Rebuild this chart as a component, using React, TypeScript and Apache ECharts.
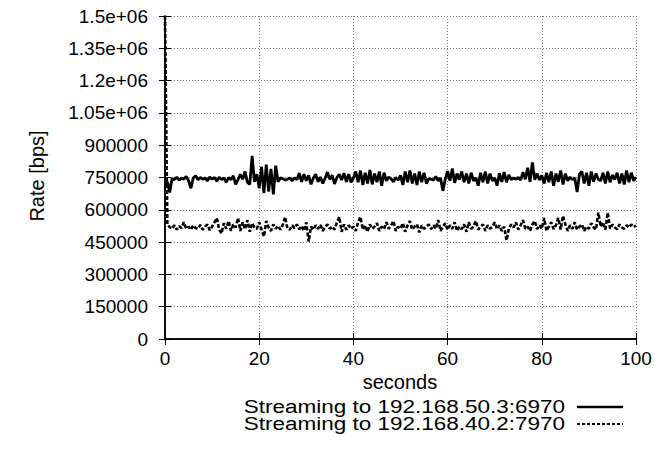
import React, { useEffect, useRef } from "react";
import * as echarts from "echarts";

const seconds = [
  0, 0.5, 1, 1.5, 2, 2.5, 3, 3.5, 4, 4.5, 5, 5.5, 6, 6.5, 7, 7.5, 8, 8.5, 9, 9.5,
  10, 10.5, 11, 11.5, 12, 12.5, 13, 13.5, 14, 14.5, 15, 15.5, 16, 16.5, 17, 17.5, 18, 18.5, 19, 19.5,
  20, 20.5, 21, 21.5, 22, 22.5, 23, 23.5, 24, 24.5, 25, 25.5, 26, 26.5, 27, 27.5, 28, 28.5, 29, 29.5,
  30, 30.5, 31, 31.5, 32, 32.5, 33, 33.5, 34, 34.5, 35, 35.5, 36, 36.5, 37, 37.5, 38, 38.5, 39, 39.5,
  40, 40.5, 41, 41.5, 42, 42.5, 43, 43.5, 44, 44.5, 45, 45.5, 46, 46.5, 47, 47.5, 48, 48.5, 49, 49.5,
  50, 50.5, 51, 51.5, 52, 52.5, 53, 53.5, 54, 54.5, 55, 55.5, 56, 56.5, 57, 57.5, 58, 58.5, 59, 59.5,
  60, 60.5, 61, 61.5, 62, 62.5, 63, 63.5, 64, 64.5, 65, 65.5, 66, 66.5, 67, 67.5, 68, 68.5, 69, 69.5,
  70, 70.5, 71, 71.5, 72, 72.5, 73, 73.5, 74, 74.5, 75, 75.5, 76, 76.5, 77, 77.5, 78, 78.5, 79, 79.5,
  80, 80.5, 81, 81.5, 82, 82.5, 83, 83.5, 84, 84.5, 85, 85.5, 86, 86.5, 87, 87.5, 88, 88.5, 89, 89.5,
  90, 90.5, 91, 91.5, 92, 92.5, 93, 93.5, 94, 94.5, 95, 95.5, 96, 96.5, 97, 97.5, 98, 98.5, 99, 99.5,
  100,
];

// Streaming to 192.168.50.3:6970 (bps)
const rateStream1 = [
  700000, 730000, 680000, 745000, 740000, 752000, 738000, 748000, 742000, 755000,
  735000, 700000, 748000, 758000, 740000, 750000, 742000, 748000, 735000, 752000,
  742000, 750000, 732000, 752000, 740000, 748000, 728000, 750000, 740000, 758000,
  718000, 740000, 765000, 742000, 778000, 728000, 718000, 850000, 730000, 765000,
  700000, 800000, 678000, 810000, 685000, 790000, 672000, 805000, 730000, 748000,
  745000, 738000, 742000, 748000, 735000, 748000, 740000, 770000, 730000, 765000,
  735000, 760000, 718000, 748000, 765000, 730000, 752000, 722000, 748000, 775000,
  742000, 760000, 720000, 750000, 765000, 738000, 770000, 730000, 765000, 728000,
  748000, 778000, 728000, 782000, 715000, 772000, 722000, 785000, 718000, 768000,
  728000, 778000, 712000, 772000, 735000, 752000, 745000, 730000, 750000, 738000,
  760000, 715000, 778000, 728000, 782000, 722000, 768000, 715000, 778000, 728000,
  772000, 722000, 745000, 742000, 738000, 755000, 735000, 748000, 688000, 742000,
  780000, 735000, 792000, 725000, 768000, 740000, 778000, 728000, 768000, 722000,
  772000, 735000, 748000, 712000, 772000, 728000, 778000, 722000, 768000, 735000,
  748000, 712000, 770000, 730000, 775000, 728000, 762000, 740000, 748000, 742000,
  750000, 738000, 775000, 742000, 795000, 730000, 820000, 740000, 768000, 738000,
  760000, 722000, 772000, 728000, 778000, 712000, 768000, 730000, 782000, 718000,
  768000, 735000, 752000, 740000, 748000, 682000, 765000, 778000, 722000, 772000,
  712000, 778000, 730000, 768000, 742000, 735000, 772000, 722000, 778000, 728000,
  762000, 740000, 772000, 722000, 768000, 718000, 782000, 728000, 772000, 735000,
  752000,
];

// Streaming to 192.168.40.2:7970 (bps)
const rateStream2 = [
  1500000, 530000, 520000, 512000, 528000, 508000, 524000, 515000, 542000, 512000,
  522000, 508000, 528000, 515000, 512000, 530000, 508000, 522000, 532000, 505000,
  522000, 542000, 562000, 508000, 490000, 538000, 512000, 548000, 502000, 532000,
  518000, 562000, 502000, 542000, 510000, 552000, 498000, 538000, 518000, 512000,
  542000, 508000, 476000, 548000, 518000, 502000, 532000, 512000, 525000, 508000,
  530000, 567000, 512000, 508000, 528000, 515000, 532000, 510000, 525000, 502000,
  542000, 452000, 522000, 508000, 528000, 512000, 530000, 502000, 522000, 532000,
  512000, 522000, 508000, 542000, 567000, 498000, 532000, 508000, 528000, 512000,
  522000, 502000, 542000, 567000, 508000, 528000, 498000, 532000, 512000, 522000,
  538000, 502000, 522000, 510000, 542000, 512000, 528000, 548000, 502000, 522000,
  512000, 538000, 498000, 528000, 548000, 508000, 522000, 532000, 495000, 528000,
  512000, 522000, 532000, 510000, 528000, 512000, 552000, 502000, 522000, 538000,
  508000, 528000, 512000, 542000, 502000, 522000, 510000, 532000, 498000, 542000,
  512000, 522000, 548000, 508000, 522000, 532000, 502000, 528000, 512000, 522000,
  542000, 510000, 528000, 502000, 522000, 458000, 512000, 532000, 518000, 542000,
  508000, 528000, 552000, 512000, 522000, 502000, 532000, 548000, 510000, 528000,
  512000, 562000, 502000, 522000, 542000, 510000, 528000, 562000, 508000, 572000,
  532000, 502000, 528000, 512000, 542000, 508000, 522000, 532000, 502000, 522000,
  512000, 538000, 518000, 508000, 587000, 522000, 542000, 508000, 587000, 512000,
  532000, 518000, 510000, 532000, 518000, 512000, 528000, 518000, 532000, 520000,
  526000,
];

const seriesNames = ["Streaming to 192.168.50.3:6970", "Streaming to 192.168.40.2:7970"];
const yTickValues = [0, 150000, 300000, 450000, 600000, 750000, 900000, 1050000, 1200000, 1350000, 1500000];
const yTickLabels = ["0", "150000", "300000", "450000", "600000", "750000", "900000", "1.05e+06", "1.2e+06", "1.35e+06", "1.5e+06"];

const FONT = "'Liberation Sans', Arial, sans-serif";

export default function App() {
  const ref = useRef<HTMLDivElement>(null);
  useEffect(() => {
    if (!ref.current) return;
    const chart = echarts.init(ref.current, undefined, { renderer: "svg" });
    const L = 165, R = 636, T = 16, B = 339;
    const yFmt = (v: number) => {
      const i = yTickValues.indexOf(v);
      return i >= 0 ? yTickLabels[i] : String(v);
    };
    const tickStyle = { show: true, inside: true, length: 6, lineStyle: { color: "#000", width: 1 } };
    const axisLine = { show: true, lineStyle: { color: "#000", width: 1.5 } };
    const split = { show: true, lineStyle: { color: "#777", type: [1, 2] as any, width: 1 } };
    const legendText = (text: string, y: number) => ({
      type: "text", x: 565, y, scaleX: 1.25,
      style: {
        text, fontSize: 18, lineHeight: 16, fontFamily: FONT, fill: "#000",
        align: "right", verticalAlign: "middle",
      },
    });
    const option: any = {
      animation: false,
      backgroundColor: "#fff",
      grid: { left: L, right: 655 - R, top: T, bottom: 462 - B, containLabel: false },
      xAxis: [
        {
          type: "value", min: 0, max: 100, interval: 20, position: "bottom",
          axisLine, axisTick: tickStyle, splitLine: split,
          axisLabel: { color: "#000", fontSize: 19, fontFamily: FONT, margin: 10 },
        },
        {
          type: "value", min: 0, max: 100, interval: 20, position: "top",
          axisLine, axisTick: tickStyle, splitLine: { show: false }, axisLabel: { show: false },
        },
      ],
      yAxis: [
        {
          type: "value", min: 0, max: 1500000, interval: 150000, position: "left",
          axisLine, axisTick: tickStyle, splitLine: split,
          axisLabel: { color: "#000", fontSize: 19, fontFamily: FONT, margin: 17, formatter: yFmt },
        },
        {
          type: "value", min: 0, max: 1500000, interval: 150000, position: "right",
          axisLine, axisTick: tickStyle, splitLine: { show: false }, axisLabel: { show: false },
        },
      ],
      series: [
        {
          name: seriesNames[0], type: "line", showSymbol: false, xAxisIndex: 0, yAxisIndex: 0,
          data: seconds.map((s, i) => [s, rateStream1[i]]),
          lineStyle: { color: "#000", width: 2.8 }, z: 3,
        },
        {
          name: seriesNames[1], type: "line", showSymbol: false, xAxisIndex: 0, yAxisIndex: 0,
          data: seconds.map((s, i) => [s, rateStream2[i]]),
          lineStyle: { color: "#000", width: 2.6, type: [4, 2] }, z: 3,
        },
      ],
      graphic: [
        {
          type: "text", x: 37, y: 176, rotation: Math.PI / 2,
          style: { text: "Rate [bps]", fontSize: 20, fontFamily: FONT, fill: "#000", align: "center", verticalAlign: "middle" },
        },
        {
          type: "text", x: 400, y: 382,
          style: { text: "seconds", fontSize: 20, fontFamily: FONT, fill: "#000", align: "center", verticalAlign: "middle" },
        },
        legendText(seriesNames[0], 407),
        legendText(seriesNames[1], 424),
        {
          type: "line", shape: { x1: 577, y1: 407, x2: 623, y2: 407 },
          style: { stroke: "#000", lineWidth: 2.5 },
        },
        {
          type: "line", shape: { x1: 577, y1: 424, x2: 623, y2: 424 },
          style: { stroke: "#000", lineWidth: 2, lineDash: [3, 2] },
        },
      ],
    };
    chart.setOption(option);
    return () => chart.dispose();
  }, []);
  return <div ref={ref} style={{ position: "fixed", left: 0, top: 0, width: 655, height: 462 }} />;
}
